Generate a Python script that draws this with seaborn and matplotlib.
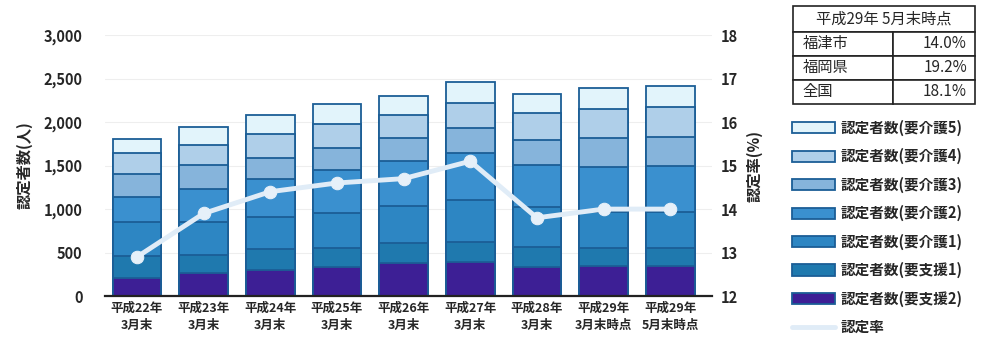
import numpy as np
import pandas as pd
import seaborn as sns
import matplotlib.pyplot as plt
from matplotlib.patches import Patch
from matplotlib.lines import Line2D

# data
years = ['平成22年\n3月末', '平成23年\n3月末', '平成24年\n3月末', '平成25年\n3月末',
         '平成26年\n3月末', '平成27年\n3月末', '平成28年\n3月末', '平成29年\n3月末時点',
         '平成29年\n5月末時点']
shien2 = [203, 268, 299, 337, 383, 387, 330, 345, 345]
shien1 = [257, 203, 238, 211, 223, 237, 237, 210, 210]
kaigo1 = [394, 383, 368, 409, 428, 479, 459, 414, 414]
kaigo2 = [287, 372, 436, 491, 518, 544, 480, 517, 525]
kaigo3 = [265, 280, 249, 257, 261, 281, 287, 327, 337]
kaigo4 = [241, 230, 269, 269, 267, 294, 314, 336, 345]
kaigo5 = [158, 210, 221, 229, 222, 234, 211, 245, 241]
rate = [12.9, 13.9, 14.4, 14.6, 14.7, 15.1, 13.8, 14.0, 14.0]

table_header = '平成29年 5月末時点'
table_rows = [['福津市', '14.0%'], ['福岡県', '19.2%'], ['全国', '18.1%']]

series = [
    ('認定者数(要支援2)', shien2, '#3d1f95'),
    ('認定者数(要支援1)', shien1, '#1f79ae'),
    ('認定者数(要介護1)', kaigo1, '#2d86c3'),
    ('認定者数(要介護2)', kaigo2, '#3a90cf'),
    ('認定者数(要介護3)', kaigo3, '#86b4db'),
    ('認定者数(要介護4)', kaigo4, '#afcfe9'),
    ('認定者数(要介護5)', kaigo5, '#e2f4fb'),
]
edge = '#1b5e96'
line_color = '#e0ecf7'

sns.set_theme(style='white')
plt.rcParams['font.family'] = ['Noto Sans CJK JP', 'DejaVu Sans']

fig = plt.figure(figsize=(9.81, 3.4), dpi=100)
ax = fig.add_axes([0.107, 0.129, 0.619, 0.768])

# stacked bars: draw cumulative totals from tallest down
cum = np.cumsum(np.array([s[1] for s in series]), axis=0)
for i in range(len(series) - 1, -1, -1):
    df = pd.DataFrame({'year': years, 'value': cum[i]})
    sns.barplot(data=df, x='year', y='value', color=series[i][2], saturation=1,
                width=0.73, edgecolor=edge, linewidth=1.3, ax=ax)

ax.set_ylim(0, 3000)
ax.set_xlim(-0.48, 8.63)
ax.set_yticks(range(0, 3001, 500))
ax.set_yticklabels([f'{v:,}' for v in range(0, 3001, 500)], fontsize=10.5, fontweight='bold')
ax.set_xticks(range(len(years)))
ax.set_xticklabels(years, fontsize=9, fontweight='bold', linespacing=1.4)
ax.set_xlabel('')
ax.set_ylabel('認定者数(人)', fontsize=11, fontweight='bold', labelpad=8)
ax.yaxis.grid(True, color='#eeeeee', linewidth=0.8)
ax.set_axisbelow(True)
for s in ['top', 'left', 'right']:
    ax.spines[s].set_visible(False)
ax.spines['bottom'].set_color('#222222')
ax.spines['bottom'].set_linewidth(1.6)
ax.tick_params(axis='both', length=0, pad=4)
ax.tick_params(axis='y', pad=16)

ax2 = ax.twinx()
sns.lineplot(x=np.arange(len(rate)), y=rate, ax=ax2, color=line_color, linewidth=3.5,
             marker='o', markersize=9, markerfacecolor='#e6f0f9', markeredgecolor='#e6f0f9')
ax2.set_ylim(12, 18)
ax2.set_yticks(range(12, 19))
ax2.set_yticklabels([str(v) for v in range(12, 19)], fontsize=10.5, fontweight='bold')
ax2.set_ylabel('認定率(%)', fontsize=11, fontweight='bold', rotation=90, labelpad=6)
for s in ['top', 'left', 'right', 'bottom']:
    ax2.spines[s].set_visible(False)
ax2.tick_params(axis='y', length=0, pad=6)

# legend
handles = [Patch(facecolor=c, edgecolor=edge, linewidth=1.3, label=l) for l, _, c in reversed(series)]
handles.append(Line2D([], [], color=line_color, linewidth=3.5, label='認定率'))
fig.legend(handles=handles, loc='upper left', bbox_to_anchor=(0.801, 0.665), frameon=False,
           prop={'size': 10.5, 'weight': 'bold'}, handlelength=3.0, handleheight=0.8,
           labelspacing=0.84, handletextpad=0.35, borderaxespad=0)

# table at top right
tax = fig.add_axes([0.808, 0.694, 0.186, 0.288])
tax.axis('off')
hdr = tax.table(cellText=[[table_header]], bbox=[0, 0.74, 1, 0.26], cellLoc='center')
body = tax.table(cellText=table_rows, bbox=[0, 0, 1, 0.74], colWidths=[0.55, 0.45])
for t in (hdr, body):
    t.auto_set_font_size(False)
    for (r, c), cell in t.get_celld().items():
        cell.set_fontsize(11)
        cell.set_linewidth(1.2)
        cell.set_edgecolor('#222222')
for r in range(3):
    body[r, 0].set_text_props(ha='left')
    body[r, 0]._loc = 'left'
    body[r, 1]._loc = 'right'

fig.savefig('out.png', dpi=100)
